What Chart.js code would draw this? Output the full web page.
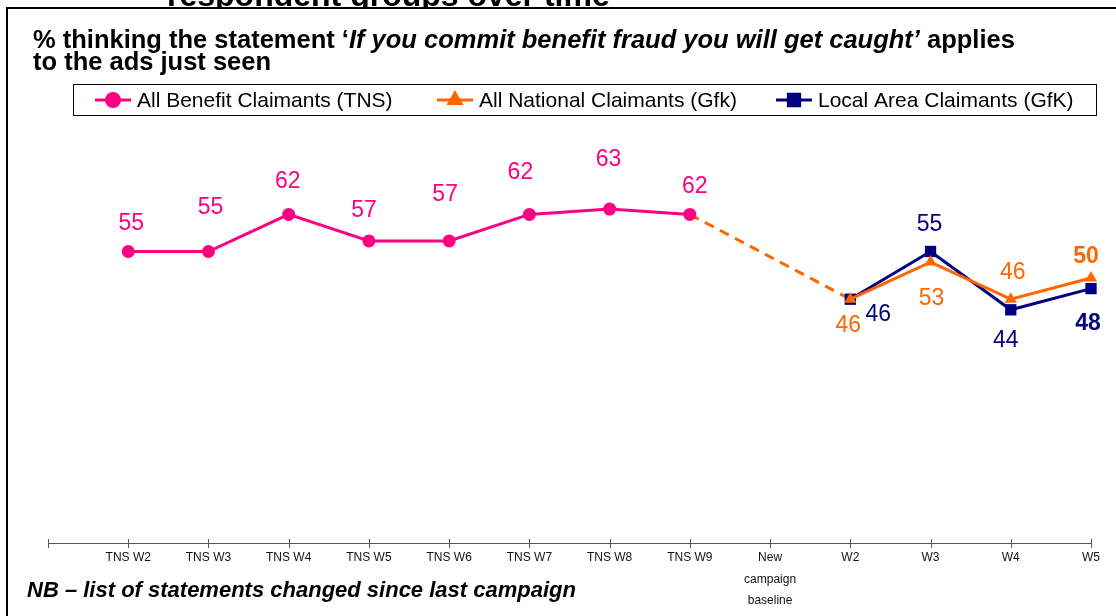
<!DOCTYPE html>
<html lang="en">
<head>
<meta charset="UTF-8">
<title>Benefit fraud ads - get caught</title>
<script src="https://cdn.jsdelivr.net/npm/chart.js@4.4.0/dist/chart.umd.min.js"></script>
<style>
    body { margin: 0; background: #fff; }
    #wrap { position: relative; width: 1116px; height: 616px; overflow: hidden; }
</style>
</head>
<body>
<div id="wrap">
    <canvas id="myChart" width="1116" height="616"></canvas>
</div>

<script>
    // waves (first slot is the empty start of the axis)
    const waves = ['', 'TNS W2', 'TNS W3', 'TNS W4', 'TNS W5', 'TNS W6', 'TNS W7', 'TNS W8', 'TNS W9',
        ['New', 'campaign', 'baseline'], 'W2', 'W3', 'W4', 'W5'];

    const benefitTNS  = [null, 55, 55, 62, 57, 57, 62, 63, 62, null, null, null, null, null];
    const nationalGfk = [null, null, null, null, null, null, null, null, null, null, 46, 53, 46, 50];
    const localGfk    = [null, null, null, null, null, null, null, null, null, null, 46, 55, 44, 48];

    // dashed link between last TNS wave and first GfK wave
    const link = waves.map((w, i) => i === 8 ? benefitTNS[8] : (i === 10 ? nationalGfk[10] : null));

    // where each value label sits, [dx, dy] from its point
    const nudgeTNS = [null, [3, -28], [2, -44], [-1, -33], [-5, -30], [-4, -46], [-9, -42], [-1, -49], [5, -28]];
    const nudgeNational = [];
    nudgeNational[10] = [-2, 26]; nudgeNational[11] = [1, 37]; nudgeNational[12] = [2, -27]; nudgeNational[13] = [-5, -21];
    const nudgeLocal = [];
    nudgeLocal[10] = [28, 15]; nudgeLocal[11] = [-1, -27]; nudgeLocal[12] = [-5, 31]; nudgeLocal[13] = [-3, 35];

    const PINK = '#FF0080', ORANGE = '#FF6600', NAVY = '#000080';
    const FONT = '"Liberation Sans", Arial, sans-serif';

    // title, frame, note and legend drawn straight on the canvas
    const decorations = {
        id: 'decorations',
        beforeDraw(chart) {
            const ctx = chart.ctx;
            ctx.save();
            ctx.fillStyle = '#fff';
            ctx.fillRect(0, 0, chart.width, chart.height);

            // slide title, mostly hidden under the chart box
            ctx.fillStyle = '#000';
            ctx.font = 'bold 32px ' + FONT;
            ctx.textBaseline = 'alphabetic';
            ctx.fillText('respondent groups over time', 167, 6);

            ctx.fillStyle = '#fff';
            ctx.fillRect(7, 8, chart.width, chart.height);
            ctx.strokeStyle = '#000';
            ctx.lineWidth = 2;
            ctx.strokeRect(7, 8, chart.width + 10, chart.height + 10);

            // statement heading, part in italics
            ctx.fillStyle = '#000';
            const parts = [
                ['bold ', '% thinking the statement \u2018'],
                ['italic bold ', 'If you commit benefit fraud you will get caught\u2019'],
                ['bold ', ' applies']
            ];
            let x = 33;
            parts.forEach(p => {
                ctx.font = p[0] + '25.5px ' + FONT;
                ctx.fillText(p[1], x, 48);
                x += ctx.measureText(p[1]).width;
            });
            ctx.font = 'bold 25.5px ' + FONT;
            ctx.fillText('to the ads just seen', 33, 70);
            ctx.restore();
        },
        afterDraw(chart) {
            const ctx = chart.ctx;
            ctx.save();

            // tick marks crossing the category axis
            const xs = chart.scales.x;
            const yAxis = chart.chartArea.bottom;
            ctx.strokeStyle = '#555';
            ctx.lineWidth = 1;
            for (let i = 0; i < waves.length; i++) {
                const px = Math.round(xs.getPixelForTick(i)) + 0.5;
                ctx.beginPath();
                ctx.moveTo(px, yAxis - 4);
                ctx.lineTo(px, yAxis + 5);
                ctx.stroke();
            }

            // legend box
            ctx.strokeStyle = '#000';
            ctx.lineWidth = 1;
            ctx.strokeRect(73.5, 84.5, 1023, 31);
            const starts = [95, 437, 776];
            const keyed = chart.data.datasets.filter(d => d.label);
            keyed.forEach((d, k) => {
                const lx = starts[k], ly = 100;
                ctx.strokeStyle = d.borderColor;
                ctx.fillStyle = d.borderColor;
                ctx.lineWidth = 3;
                ctx.beginPath();
                ctx.moveTo(lx, ly);
                ctx.lineTo(lx + 36, ly);
                ctx.stroke();
                Chart.helpers.drawPoint(ctx, {
                    pointStyle: d.pointStyle, radius: d.pointRadius, rotation: 0, borderWidth: 1
                }, lx + 18, ly);
                ctx.fillStyle = '#000';
                ctx.font = '21px ' + FONT;
                ctx.textBaseline = 'middle';
                ctx.fillText(d.label, lx + 42, ly + 1);
            });

            ctx.font = 'italic bold 22px ' + FONT;
            ctx.fillStyle = '#000';
            ctx.textBaseline = 'middle';
            ctx.fillText('NB \u2013 list of statements changed since last campaign', 27, 591);
            ctx.restore();
        }
    };

    // value labels next to the points
    const valueLabels = {
        id: 'valueLabels',
        afterDatasetsDraw(chart) {
            const ctx = chart.ctx;
            chart.data.datasets.forEach((ds, di) => {
                if (!ds.nudge) return;
                const meta = chart.getDatasetMeta(di);
                ds.data.forEach((v, i) => {
                    if (v === null || !ds.nudge[i]) return;
                    const pt = meta.data[i];
                    ctx.save();
                    ctx.font = (i === waves.length - 1 ? 'bold ' : '') + '23px ' + FONT;
                    ctx.fillStyle = ds.borderColor;
                    ctx.textAlign = 'center';
                    ctx.textBaseline = 'middle';
                    ctx.fillText(v, pt.x + ds.nudge[i][0], pt.y + ds.nudge[i][1]);
                    ctx.restore();
                });
            });
        }
    };

    function buildChart() {
        let content = document.querySelector('#myChart').getContext('2d');
        let myChart = new Chart(content, {
            type: 'line',
            data: {
                labels: waves,
                datasets: [{
                    label: 'All Benefit Claimants (TNS)',
                    data: benefitTNS,
                    nudge: nudgeTNS,
                    borderColor: PINK,
                    backgroundColor: PINK,
                    borderWidth: 3,
                    pointStyle: 'circle',
                    pointRadius: 6.5,
                    pointHoverRadius: 6.5,
                    pointBorderWidth: 0
                }, {
                    label: 'All National Claimants (Gfk)',
                    data: nationalGfk,
                    nudge: nudgeNational,
                    borderColor: ORANGE,
                    backgroundColor: ORANGE,
                    borderWidth: 3,
                    pointStyle: 'triangle',
                    pointRadius: 7,
                    pointHoverRadius: 7,
                    pointBorderWidth: 0
                }, {
                    label: 'Local Area Claimants (GfK)',
                    data: localGfk,
                    nudge: nudgeLocal,
                    borderColor: NAVY,
                    backgroundColor: NAVY,
                    borderWidth: 3,
                    pointStyle: 'rect',
                    pointRadius: 8,
                    pointHoverRadius: 8,
                    pointBorderWidth: 0
                }, {
                    label: '',
                    data: link,
                    borderColor: ORANGE,
                    borderWidth: 3,
                    borderDash: [10, 7],
                    spanGaps: true,
                    pointRadius: 0,
                    order: 5
                }]
            },
            options: {
                responsive: false,
                animation: false,
                events: [],
                layout: { padding: { left: 48, right: 25, top: 13, bottom: 0 } },
                plugins: { legend: { display: false }, title: { display: false }, tooltip: { enabled: false } },
                scales: {
                    x: {
                        offset: false,
                        grid: { display: false, drawTicks: false },
                        border: { display: true, color: '#555', width: 1 },
                        ticks: {
                            autoSkip: false,
                            maxRotation: 0,
                            padding: 4,
                            color: '#111',
                            font: { family: FONT, size: 12, lineHeight: 21.5 / 12 }
                        },
                        afterFit(scale) { scale.height = 73; }
                    },
                    y: { display: false, min: 0, max: 100 }
                }
            },
            plugins: [decorations, valueLabels]
        });
        return myChart;
    }

    buildChart();
</script>
</body>
</html>
